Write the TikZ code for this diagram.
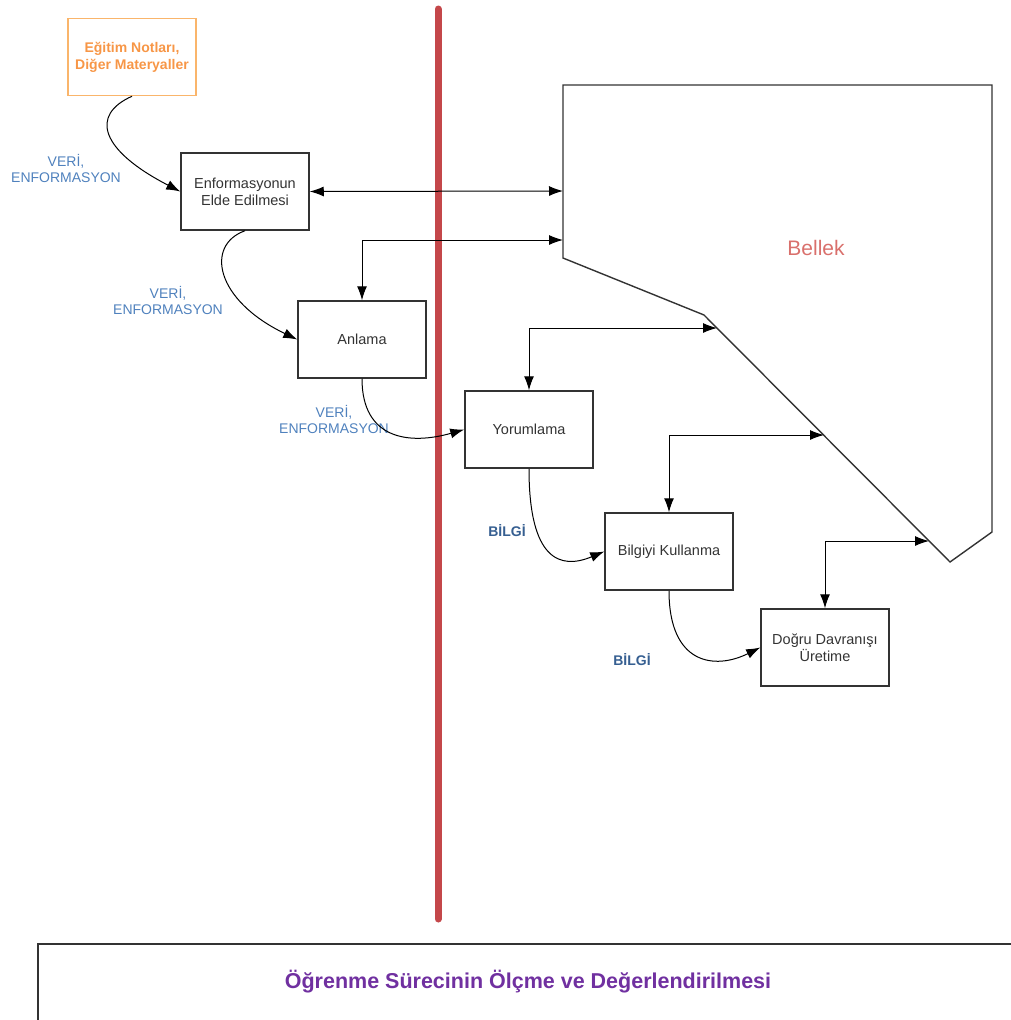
\documentclass[tikz,border=0pt]{standalone}
\usepackage{fontspec}
\setmainfont{Liberation Sans}
\usetikzlibrary{arrows.meta}
\definecolor{boxline}{HTML}{333333}
\definecolor{srcorange}{HTML}{F79646}
\definecolor{srcborder}{HTML}{FAB56B}
\definecolor{flowblue}{HTML}{4F81BD}
\definecolor{infoblue}{HTML}{365F91}
\definecolor{dividerred}{HTML}{C4474A}
\definecolor{memred}{HTML}{D9706C}
\definecolor{evalpurple}{HTML}{7030A0}
\tikzset{
  stage/.style={draw=boxline, line width=1.5pt, minimum width=128pt, minimum height=77pt,
    inner sep=2pt, align=center, font=\fontsize{14.5}{17}\selectfont, text=black!80},
  source/.style={stage, draw=srcborder, text=srcorange, font=\fontsize{14}{17}\bfseries\selectfont},
  flowlabel/.style={align=center, text=flowblue, font=\fontsize{14}{16}\selectfont},
  infolabel/.style={text=infoblue, font=\fontsize{14}{16}\bfseries\selectfont},
  tip/.tip={Latex[length=14pt,width=10pt]},
  link/.style={draw=black, line width=1pt, -tip},
  dlink/.style={draw=black, line width=1pt, tip-tip}
}
\begin{document}
\begin{tikzpicture}[x={(1pt,0)}, y={(0,-1pt)}]
\useasboundingbox (0,0) rectangle (1010,1020);

% divider between external and internal processes
\draw[dividerred, line width=7pt, line cap=round] (438,9) -- (438,919);

% memory block
\coordinate (m1) at (563,85);
\coordinate (m2) at (992,85);
\coordinate (m3) at (992,532);
\coordinate (m4) at (950,562);
\coordinate (m5) at (704,315);
\coordinate (m6) at (563,258);
\draw[boxline, line width=1.4pt, line join=miter] (m1) -- (m2) -- (m3) -- (m4) -- (m5) -- (m6) -- cycle;
\node[text=memred, font=\fontsize{21}{24}\selectfont] (bellek) at (816,248) {Bellek};

% entry points on the memory block
\coordinate (b1) at (563,191);
\coordinate (b2) at (563,240);
\coordinate (b3) at (717,328);
\coordinate (b4) at (824,435);
\coordinate (b5) at (929,541);

% process stages
\node[source] (src) at (132,57) {Eğitim Notları,\\Diğer Materyaller};
\node[stage] (enf) at (245,191.5) {Enformasyonun\\Elde Edilmesi};
\node[stage] (anl) at (362,339.5) {Anlama};
\node[stage] (yor) at (529,429.5) {Yorumlama};
\node[stage] (bil) at (669,551.5) {Bilgiyi Kullanma};
\node[stage] (dog) at (825,647.5) {Doğru Davranışı\\Üretime};

% flow labels
\node[flowlabel] (l1) at (66,168) {VERİ,\\ENFORMASYON};
\node[flowlabel] (l2) at (168,300) {VERİ,\\ENFORMASYON};
\node[flowlabel] (l3) at (334,419) {VERİ,\\ENFORMASYON};
\node[infolabel] (l4) at (507,531) {BİLGİ};
\node[infolabel] (l5) at (632,660) {BİLGİ};

% flow between stages
\draw[link] (src.south) .. controls (90,115) and (100,150) .. (enf.west);
\draw[link] (enf.south) .. controls (205,245) and (215,300) .. (anl.west);
\draw[link] (anl.south) .. controls (362,440) and (410,445) .. (yor.west);
\draw[link] (yor.south) .. controls (529,560) and (560,570) .. (bil.west);
\draw[link] (bil.south) .. controls (669,665) and (715,670) .. (dog.west);

% exchanges with memory
\draw[dlink] (enf.east) -- (b1);
\draw[dlink] (anl.north) |- (b2);
\draw[dlink] (yor.north) |- (b3);
\draw[dlink] (bil.north) |- (b4);
\draw[dlink] (dog.north) |- (b5);

% evaluation frame
\draw[boxline, line width=1.4pt] (38,1030) -- (38,944) -- (1020,944);
\node[text=evalpurple, font=\fontsize{21.5}{24}\bfseries\selectfont] (eval) at (528,982) {Öğrenme Sürecinin Ölçme ve Değerlendirilmesi};
\end{tikzpicture}
\end{document}
